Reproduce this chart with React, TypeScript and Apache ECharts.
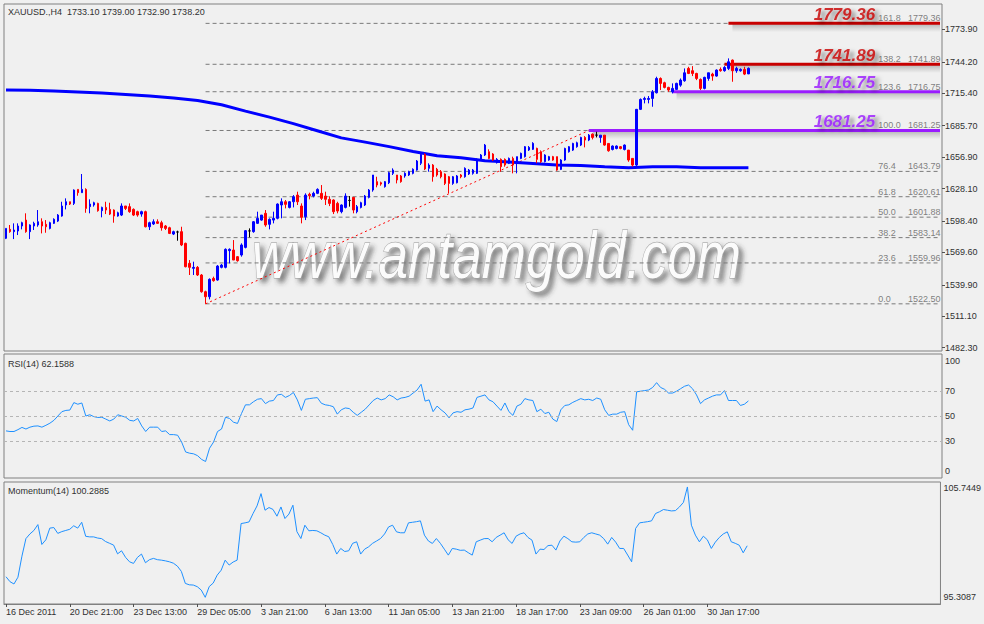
import React, { useEffect, useRef } from 'react';
import * as echarts from 'echarts';

const symbolHeader = 'XAUUSD.,H4\u00a0\u00a01733.10 1739.00 1732.90 1738.20';
const rsiHeader = 'RSI(14) 62.1588';
const momHeader = 'Momentum(14) 100.2885';

const SLOT_COUNT = 235;
const TIME_LABEL_STEP = 16;
const timeLabels = ['16 Dec 2011', '20 Dec 21:00', '23 Dec 13:00', '29 Dec 05:00', '3 Jan 21:00', '6 Jan 13:00', '11 Jan 05:00', '13 Jan 21:00', '18 Jan 17:00', '23 Jan 09:00', '26 Jan 01:00', '30 Jan 17:00'];

// [open, close, low, high]
const candles: number[][] = [
  [1582.5, 1591.6, 1581.8, 1591.6], [1590.7, 1588.6, 1587.6, 1594.7], [1588.6, 1590.1, 1581.8, 1596.2], [1589.2, 1593.8, 1585.5, 1596.2],
  [1593.8, 1596.8, 1590.7, 1597.7], [1599.2, 1588.6, 1587.6, 1605.4], [1588.6, 1594.7, 1581.8, 1595.3], [1593.8, 1596.2, 1590.1, 1597.7],
  [1594.7, 1597.7, 1593.1, 1608.4], [1597.7, 1593.8, 1587.0, 1600.8], [1595.3, 1593.1, 1587.6, 1599.2], [1591.6, 1596.8, 1590.7, 1597.7],
  [1596.2, 1599.9, 1595.6, 1600.8], [1598.3, 1603.8, 1597.4, 1604.7], [1602.9, 1612.1, 1602.3, 1616.0], [1613.0, 1616.0, 1609.0, 1619.1],
  [1616.0, 1613.9, 1613.0, 1616.0], [1614.5, 1626.7, 1613.0, 1627.3], [1627.3, 1624.3, 1621.5, 1627.3], [1624.3, 1627.3, 1624.3, 1641.4],
  [1627.3, 1609.9, 1605.9, 1628.3], [1611.5, 1613.9, 1605.4, 1618.2], [1613.0, 1615.1, 1611.5, 1616.0], [1614.5, 1607.8, 1606.9, 1615.1],
  [1607.8, 1610.8, 1601.7, 1611.5], [1610.8, 1608.4, 1604.7, 1616.0], [1609.0, 1604.7, 1603.8, 1615.1], [1608.4, 1602.9, 1596.8, 1609.0],
  [1602.9, 1605.9, 1602.3, 1606.9], [1603.8, 1612.1, 1602.9, 1614.5], [1612.1, 1609.9, 1608.4, 1612.1], [1611.5, 1606.9, 1605.9, 1614.5],
  [1609.0, 1603.8, 1602.9, 1609.9], [1606.9, 1603.8, 1602.3, 1607.8], [1604.7, 1606.9, 1602.3, 1607.8], [1606.9, 1593.1, 1592.5, 1607.8],
  [1593.1, 1596.8, 1590.1, 1597.7], [1595.6, 1597.7, 1594.7, 1599.9], [1597.7, 1596.2, 1595.6, 1599.9], [1596.8, 1592.2, 1589.5, 1598.6],
  [1593.8, 1591.6, 1590.1, 1594.7], [1592.2, 1587.0, 1586.4, 1593.1], [1586.4, 1588.6, 1585.5, 1589.5], [1588.3, 1588.3, 1580.3, 1589.5],
  [1588.6, 1576.4, 1575.4, 1593.1], [1577.9, 1556.5, 1555.9, 1578.5], [1559.6, 1555.9, 1548.9, 1562.6], [1555.0, 1555.9, 1548.9, 1561.1],
  [1555.9, 1548.9, 1548.0, 1557.1], [1548.9, 1533.6, 1532.7, 1549.8], [1533.6, 1529.0, 1522.5, 1534.5], [1529.0, 1544.9, 1526.6, 1545.8],
  [1545.8, 1543.7, 1542.8, 1547.4], [1544.3, 1557.1, 1543.7, 1558.0], [1555.9, 1558.0, 1555.0, 1559.0], [1555.9, 1572.4, 1555.0, 1573.3],
  [1571.2, 1572.4, 1559.6, 1573.3], [1571.8, 1562.6, 1562.6, 1580.9], [1565.7, 1562.0, 1561.1, 1566.3], [1567.2, 1576.4, 1565.7, 1577.9],
  [1574.2, 1589.5, 1573.3, 1590.1], [1589.3, 1589.3, 1583.4, 1591.6], [1588.6, 1597.7, 1587.6, 1598.3], [1596.2, 1600.8, 1595.6, 1606.9],
  [1599.2, 1603.8, 1598.6, 1603.8], [1605.4, 1594.7, 1593.1, 1608.4], [1595.3, 1599.9, 1590.7, 1600.8], [1599.2, 1600.8, 1596.2, 1606.9],
  [1600.8, 1613.9, 1599.9, 1614.5], [1613.0, 1616.0, 1600.8, 1619.1], [1616.0, 1613.6, 1609.9, 1617.6], [1610.8, 1616.0, 1609.9, 1616.6],
  [1616.0, 1620.6, 1610.8, 1622.1], [1622.1, 1616.0, 1613.0, 1625.2], [1612.1, 1601.7, 1596.2, 1614.5], [1602.3, 1622.1, 1599.2, 1623.7],
  [1622.8, 1621.5, 1618.2, 1624.3], [1621.2, 1623.7, 1620.0, 1625.2], [1623.7, 1627.3, 1623.0, 1628.3], [1623.7, 1619.1, 1617.6, 1631.3],
  [1621.2, 1618.2, 1613.0, 1625.2], [1618.2, 1614.5, 1612.0, 1621.0], [1617.6, 1606.9, 1604.7, 1618.2], [1614.5, 1607.5, 1605.4, 1616.0],
  [1606.9, 1613.0, 1605.4, 1613.6], [1610.8, 1621.2, 1609.9, 1623.7], [1617.2, 1617.2, 1611.5, 1621.2], [1620.0, 1608.4, 1605.4, 1620.0],
  [1606.9, 1611.5, 1605.4, 1613.0], [1610.8, 1615.1, 1609.9, 1616.0], [1613.0, 1621.2, 1612.1, 1622.2], [1620.0, 1626.7, 1619.1, 1627.6],
  [1626.7, 1640.5, 1625.2, 1640.5], [1634.4, 1631.3, 1629.2, 1638.9], [1633.4, 1632.2, 1630.7, 1634.4], [1629.8, 1634.4, 1628.9, 1635.0],
  [1633.4, 1642.6, 1632.2, 1643.5], [1642.0, 1645.0, 1640.5, 1646.6], [1640.5, 1635.9, 1632.8, 1640.5], [1639.6, 1634.4, 1633.4, 1640.5],
  [1639.6, 1642.0, 1638.0, 1643.0], [1640.5, 1643.5, 1639.6, 1644.4], [1642.0, 1645.7, 1641.1, 1646.6], [1645.0, 1653.3, 1644.4, 1654.2],
  [1651.2, 1659.4, 1649.6, 1660.9], [1659.4, 1646.0, 1645.0, 1660.3], [1646.6, 1649.6, 1643.5, 1651.2], [1649.6, 1638.9, 1634.4, 1650.5],
  [1645.7, 1640.5, 1639.0, 1647.0], [1643.5, 1638.9, 1637.4, 1645.0], [1641.4, 1632.8, 1631.3, 1642.0], [1638.9, 1632.8, 1623.7, 1639.6],
  [1632.8, 1638.9, 1631.5, 1639.6], [1633.4, 1639.6, 1632.8, 1640.5], [1640.5, 1638.9, 1637.5, 1641.4], [1638.9, 1646.6, 1638.0, 1647.5],
  [1641.4, 1645.0, 1640.5, 1646.0], [1642.0, 1645.0, 1640.8, 1646.0], [1642.0, 1654.8, 1641.4, 1655.7], [1654.2, 1658.8, 1653.5, 1659.7],
  [1658.8, 1667.9, 1657.9, 1668.9], [1661.8, 1655.7, 1655.0, 1664.0], [1659.7, 1654.2, 1653.3, 1660.5], [1651.8, 1654.8, 1651.0, 1656.0],
  [1654.8, 1648.1, 1643.5, 1655.7], [1654.8, 1649.6, 1648.1, 1655.7], [1651.2, 1655.7, 1650.5, 1656.5], [1655.7, 1649.6, 1642.0, 1657.3],
  [1651.2, 1657.3, 1642.0, 1657.3], [1655.7, 1660.3, 1655.0, 1661.0], [1657.3, 1666.4, 1656.5, 1667.0], [1663.4, 1665.8, 1662.5, 1667.0],
  [1664.0, 1669.5, 1663.4, 1670.5], [1664.9, 1654.8, 1651.2, 1665.5], [1661.8, 1652.7, 1651.5, 1663.0], [1652.7, 1658.8, 1652.0, 1659.5],
  [1654.2, 1657.3, 1653.5, 1658.0], [1657.3, 1654.2, 1653.5, 1658.0], [1657.3, 1645.0, 1644.4, 1657.3], [1645.6, 1654.2, 1645.0, 1655.0],
  [1654.2, 1664.8, 1653.5, 1665.5], [1661.8, 1666.4, 1661.0, 1667.0], [1663.3, 1669.4, 1662.5, 1670.0], [1666.4, 1670.0, 1665.5, 1671.0],
  [1667.9, 1674.9, 1667.0, 1675.5], [1674.9, 1672.5, 1665.8, 1676.1], [1672.5, 1677.0, 1671.5, 1678.0], [1677.9, 1674.9, 1673.1, 1678.6],
  [1677.0, 1677.0, 1674.9, 1680.1], [1674.9, 1677.0, 1670.0, 1677.0], [1677.0, 1667.9, 1667.3, 1677.0], [1669.4, 1662.7, 1661.8, 1669.4],
  [1663.9, 1667.0, 1663.0, 1667.6], [1664.8, 1667.0, 1664.0, 1667.6], [1666.4, 1664.8, 1664.0, 1667.0], [1663.9, 1667.9, 1663.0, 1668.5],
  [1663.3, 1654.2, 1652.6, 1663.3], [1655.7, 1649.6, 1648.1, 1655.7], [1649.6, 1700.6, 1648.5, 1701.0], [1700.6, 1709.7, 1700.0, 1710.6],
  [1709.7, 1710.6, 1706.1, 1712.2], [1709.7, 1710.6, 1706.1, 1712.8], [1710.6, 1716.7, 1703.0, 1718.3], [1715.8, 1728.9, 1715.2, 1730.5],
  [1728.9, 1724.4, 1718.3, 1729.9], [1725.0, 1720.7, 1719.8, 1725.9], [1720.7, 1718.3, 1716.7, 1721.3], [1716.7, 1719.8, 1715.2, 1724.4],
  [1718.9, 1724.4, 1718.3, 1725.0], [1722.8, 1727.4, 1721.3, 1728.9], [1726.8, 1734.1, 1725.9, 1738.1], [1738.1, 1733.5, 1732.9, 1739.6],
  [1736.0, 1733.5, 1731.1, 1740.2], [1733.5, 1728.9, 1727.4, 1734.1], [1728.0, 1719.8, 1718.3, 1728.9], [1719.8, 1729.9, 1718.9, 1730.5],
  [1728.9, 1734.1, 1726.8, 1734.1], [1732.9, 1731.1, 1726.8, 1734.1], [1731.1, 1736.6, 1730.5, 1737.2], [1737.2, 1736.0, 1735.1, 1739.0],
  [1736.0, 1739.0, 1735.1, 1740.2], [1738.1, 1744.2, 1736.6, 1747.3], [1745.7, 1736.0, 1725.9, 1746.3], [1736.0, 1738.1, 1734.1, 1739.6],
  [1736.0, 1737.2, 1735.1, 1738.1], [1737.2, 1732.9, 1732.0, 1739.6], [1733.1, 1738.2, 1732.9, 1739.0],
];

// moving average, [bar, value]
const maPoints: number[][] = [
  [0, 1718.3], [6, 1718.0], [12, 1717.4], [18, 1716.5], [24, 1715.5], [30, 1714.3], [36, 1712.8], [42, 1711.0],
  [48, 1708.7], [54, 1704.8], [60, 1699.0], [66, 1693.5], [72, 1687.5], [78, 1681.0], [84, 1674.5], [90, 1670.6],
  [96, 1666.5], [102, 1662.0], [108, 1658.2], [114, 1656.2], [120, 1653.5], [126, 1652.4], [132, 1651.0], [138, 1649.6],
  [144, 1649.3], [150, 1648.1], [156, 1647.2], [162, 1648.0], [168, 1648.0], [174, 1647.2], [186, 1647.2],
];

const rsiValues = [
  38.0, 37.5, 37.5, 39.0, 40.8, 39.5, 41.0, 41.8, 42.0, 41.0, 42.5, 44.2, 46.5, 50.0, 53.5, 54.5, 54.8, 60.8, 59.5, 60.5,
  50.0, 51.0, 49.5, 48.8, 49.0, 47.5, 46.0, 47.5, 51.0, 50.0, 49.0, 46.5, 46.0, 48.0, 42.0, 37.5, 41.0, 41.0, 41.0, 37.5,
  38.0, 35.0, 35.0, 34.5, 29.0, 21.0, 20.0, 19.5, 18.0, 15.0, 13.3, 24.0, 29.0, 37.5, 39.5, 49.0, 48.0, 45.0, 44.0, 52.0,
  59.0, 59.0, 61.5, 63.5, 64.0, 60.0, 62.0, 62.5, 67.0, 67.5, 65.0, 66.5, 69.0, 63.0, 54.5, 63.5, 64.0, 64.5, 64.8, 60.3,
  59.0, 58.5, 57.5, 51.5, 55.0, 56.5, 56.0, 53.0, 50.5, 53.0, 55.5, 59.0, 62.5, 64.5, 63.0, 64.0, 67.0, 65.5, 63.0, 64.5,
  65.0, 66.0, 68.5, 71.0, 75.6, 62.0, 63.0, 53.5, 58.0, 55.0, 52.5, 48.5, 52.5, 53.5, 53.0, 55.0, 55.5, 56.5, 65.0, 66.0,
  67.0, 63.0, 61.5, 58.0, 54.5, 60.5, 53.5, 50.5, 58.0, 59.5, 64.0, 63.0, 62.5, 53.5, 55.5, 52.0, 53.0, 47.5, 45.5, 55.0,
  58.5, 59.0, 61.0, 62.5, 64.0, 63.0, 63.5, 62.5, 64.5, 63.5, 55.0, 50.5, 51.5, 51.5, 53.0, 53.5, 43.0, 38.5, 69.5, 70.0,
  70.5, 71.0, 73.0, 76.9, 73.0, 71.5, 68.5, 68.5, 70.0, 72.0, 74.0, 75.0, 72.0, 67.0, 60.0, 63.0, 64.5, 66.0, 67.0, 67.0,
  70.5, 62.5, 62.5, 62.5, 58.5, 59.5, 62.16,
];

const momentumValues = [
  97.64, 97.22, 97.02, 97.6, 99.4, 100.9, 101.3, 101.6, 102.1, 100.4, 100.8, 101.8, 101.85, 101.35, 101.5, 101.6, 101.7, 102.0, 101.8, 102.3,
  101.1, 101.05, 101.05, 100.95, 100.9, 100.65, 100.5, 100.35, 99.6, 99.86, 99.3, 98.92, 98.78, 99.3, 99.58, 98.84, 99.1, 99.21, 99.1, 99.06,
  99.0, 98.92, 98.8, 98.55, 98.1, 97.07, 96.95, 96.93, 96.79, 96.5, 95.88, 96.8, 97.1, 97.78, 98.2, 99.06, 98.64, 98.9, 99.06, 102.19,
  102.25, 102.33, 103.05, 103.7, 104.75, 103.33, 103.56, 103.4, 102.82, 103.61, 102.62, 103.0, 103.76, 101.5, 100.91, 102.05, 101.57, 101.6, 101.57, 101.4,
  101.2, 101.06, 100.4, 99.58, 100.06, 99.8, 99.86, 100.5, 100.63, 99.58, 100.0, 100.2, 100.5, 100.7, 100.91, 101.3, 101.9, 102.05, 101.48, 101.4,
  101.4, 102.25, 102.3, 102.35, 102.42, 101.2, 100.7, 100.49, 100.91, 100.5, 100.0, 99.49, 100.06, 100.0, 99.9, 99.92, 99.7, 99.49, 100.63, 100.77,
  100.9, 100.91, 100.63, 101.0, 101.2, 101.4, 100.8, 100.49, 101.11, 101.3, 101.4, 101.0, 100.77, 99.58, 100.0, 99.97, 100.3, 100.34, 99.92, 100.7,
  101.11, 100.9, 100.63, 100.6, 100.63, 101.0, 101.3, 101.4, 101.3, 101.2, 100.9, 100.43, 101.0, 100.6, 100.06, 100.06, 99.5, 98.92, 101.77, 102.25,
  102.3, 102.35, 102.42, 103.05, 103.2, 103.39, 103.33, 103.27, 103.3, 103.61, 104.0, 105.32, 102.05, 101.2, 100.63, 101.11, 100.8, 100.06, 100.6, 101.0,
  101.3, 101.48, 100.63, 100.5, 100.34, 99.69, 100.29,
];

const priceTicks = [1773.9, 1744.2, 1715.4, 1685.7, 1656.9, 1628.1, 1598.4, 1569.6, 1539.9, 1511.1, 1482.3];
const PRICE_MIN = 1479.3;
const PRICE_MAX = 1797.1;

const rsiLevels = [70, 50, 30];
const rsiLabelTexts = ['100', '70', '50', '30', '0'];
const rsiLabelSpots = [94.4, 70, 50, 30, 5.6];

const MOM_MIN = 95.3087;
const MOM_MAX = 105.7449;
const momLabelTexts = ['105.7449', '95.3087'];
const momLabelSpots = [105.21, 95.88];

const fibPercents = ['0.0', '23.6', '38.2', '50.0', '61.8', '76.4', '100.0', '123.6', '138.2', '161.8'];
const fibPrices = [1522.5, 1559.96, 1583.14, 1601.88, 1620.61, 1643.79, 1681.25, 1716.75, 1741.89, 1779.36];
const FIB_START_BAR = 50;
const LAST_SLOT = SLOT_COUNT - 1;
const trendLine = [[50, 1522.5], [146, 1681.25]];

const keyLevels = [1779.36, 1741.89, 1716.75, 1681.25];
const keyLevelStartBars = [181, 180, 167, 146];
const keyLevelColors = ['#c80000', '#c80000', '#9a1cff', '#9a1cff'];
const SHADOW_DEPTH = 8;

const lastPrice = 1738.2;
const watermark = 'www.antamgold.com';

const FONT = '"Liberation Sans", Arial, sans-serif';
const TXT = '#303030';

function nearestText(v: number, spots: number[], texts: string[]) {
  let k = 0;
  for (let i = 1; i < spots.length; i++) if (Math.abs(spots[i] - v) < Math.abs(spots[k] - v)) k = i;
  return texts[k];
}

function buildOption(): any {
  const categories = Array.from({ length: SLOT_COUNT }, (_, i) => String(i));
  const showTime = (i: number) => i % TIME_LABEL_STEP === 0 && i / TIME_LABEL_STEP < timeLabels.length;
  const gridBase = { left: 4, right: 42, show: true, borderColor: '#808080', borderWidth: 1, backgroundColor: 'transparent' };

  const fibLineSeries = fibPrices.map((p) => ({
    type: 'line', xAxisIndex: 0, yAxisIndex: 0, silent: true, symbol: 'none', z: 2,
    data: [[FIB_START_BAR, p], [LAST_SLOT, p]],
    lineStyle: { color: '#7a7a7a', width: 1, type: [4, 3] },
  }));

  const shadowFill = new echarts.graphic.LinearGradient(0, 0, 0, 1, [
    { offset: 0, color: 'rgba(0,0,0,0.26)' },
    { offset: 0.5, color: 'rgba(0,0,0,0.12)' },
    { offset: 1, color: 'rgba(0,0,0,0)' },
  ]);

  const keyLineSeries = keyLevels.map((p, k) => ({
    type: 'line', xAxisIndex: 0, yAxisIndex: 0, silent: true, symbol: 'none', z: 3,
    data: [[keyLevelStartBars[k], p], [LAST_SLOT, p]],
    lineStyle: { color: keyLevelColors[k], width: 3 },
    markArea: {
      silent: true,
      itemStyle: { color: shadowFill },
      data: [[{ coord: [keyLevelStartBars[k] + 1, p] }, { coord: [LAST_SLOT, p - SHADOW_DEPTH] }]],
    },
  }));

  const bigLabelSeries = keyLevels.map((p, k) => ({
    type: 'scatter', xAxisIndex: 0, yAxisIndex: 0, silent: true, symbolSize: 0, z: 8,
    data: [[218, p]],
    label: {
      show: true, position: 'left', distance: 1, offset: [0, -9],
      formatter: () => p.toFixed(2),
      fontFamily: FONT, fontSize: 17, fontWeight: 'bold', fontStyle: 'italic',
      color: keyLevelColors[k],
      textShadowColor: 'rgba(0,0,0,0.6)', textShadowBlur: 4, textShadowOffsetX: 4, textShadowOffsetY: 3,
    },
  }));

  return {
    animation: false,
    backgroundColor: '#f0f0f0',
    textStyle: { fontFamily: FONT },
    title: [
      { text: symbolHeader, left: 8, top: 7, padding: 0, textStyle: { fontSize: 9, fontWeight: 'normal', color: TXT, fontFamily: FONT } },
      { text: rsiHeader, left: 8, top: 359, padding: 0, textStyle: { fontSize: 9, fontWeight: 'normal', color: TXT, fontFamily: FONT } },
      { text: momHeader, left: 8, top: 486, padding: 0, textStyle: { fontSize: 9, fontWeight: 'normal', color: TXT, fontFamily: FONT } },
    ],
    grid: [
      { ...gridBase, top: 4, height: 347 },
      { ...gridBase, top: 354, height: 124 },
      { ...gridBase, top: 482, height: 122 },
    ],
    xAxis: [0, 1, 2].map((g) => ({
      type: 'category', gridIndex: g, data: categories, boundaryGap: true, show: g === 2,
      axisLine: { show: true, lineStyle: { color: '#808080' } },
      axisTick: { show: true, alignWithLabel: true, length: 3, interval: (i: number) => showTime(i), lineStyle: { color: '#505050' } },
      axisLabel: {
        show: true, interval: (i: number) => showTime(i), align: 'left', margin: 3,
        fontSize: 9, color: TXT, fontFamily: FONT,
        formatter: (_v: string, i: number) => timeLabels[Math.round(i / TIME_LABEL_STEP)] ?? '',
      },
      splitLine: { show: false },
    })),
    yAxis: [
      {
        type: 'value', gridIndex: 0, position: 'right', min: PRICE_MIN, max: PRICE_MAX,
        splitLine: { show: false }, axisLine: { show: false },
        axisTick: { show: true, length: 3, customValues: priceTicks, lineStyle: { color: '#505050' } },
        axisLabel: { customValues: priceTicks, formatter: (v: number) => v.toFixed(2), fontSize: 9, color: TXT, margin: 3, fontFamily: FONT },
      },
      {
        type: 'value', gridIndex: 1, position: 'right', min: 0, max: 100,
        splitLine: { show: false }, axisLine: { show: false }, axisTick: { show: false },
        axisLabel: { customValues: rsiLabelSpots, formatter: (v: number) => nearestText(v, rsiLabelSpots, rsiLabelTexts), fontSize: 9, color: TXT, margin: 3, fontFamily: FONT },
      },
      {
        type: 'value', gridIndex: 2, position: 'right', min: MOM_MIN, max: MOM_MAX,
        splitLine: { show: false }, axisLine: { show: false }, axisTick: { show: false },
        axisLabel: { customValues: momLabelSpots, formatter: (v: number) => nearestText(v, momLabelSpots, momLabelTexts), fontSize: 9, color: TXT, margin: 3, fontFamily: FONT },
      },
    ],
    graphic: [
      {
        type: 'text', x: 252, y: 255, scaleY: 1.27, z: 0, silent: true,
        style: {
          text: watermark, font: `italic 53px ${FONT}`,
          fill: '#fbfbfb', stroke: 'rgba(150,150,150,0.7)', lineWidth: 1,
          align: 'left', verticalAlign: 'middle', textAlign: 'left', textVerticalAlign: 'middle',
          textShadowColor: 'rgba(50,50,50,0.6)', textShadowBlur: 5, textShadowOffsetX: 4, textShadowOffsetY: 4,
          shadowColor: 'rgba(50,50,50,0.6)', shadowBlur: 5, shadowOffsetX: 4, shadowOffsetY: 4,
        },
      },
    ],
    series: [
      ...fibLineSeries,
      {
        type: 'line', xAxisIndex: 0, yAxisIndex: 0, silent: true, symbol: 'none', z: 2,
        data: trendLine, lineStyle: { color: '#ff0000', width: 1, type: [2, 3] },
      },
      {
        type: 'line', xAxisIndex: 0, yAxisIndex: 0, silent: true, symbol: 'none', z: 3,
        data: maPoints, lineStyle: { color: '#0000ff', width: 3 },
      },
      ...keyLineSeries,
      {
        type: 'candlestick', xAxisIndex: 0, yAxisIndex: 0, silent: true, z: 4, barWidth: 2,
        data: candles,
        itemStyle: {
          color: '#0000ff', color0: '#ff0000', borderColor: '#0000ff', borderColor0: '#ff0000',
          borderColorDoji: '#000000', borderWidth: 1,
        },
        markLine: {
          silent: true, symbol: ['none', 'none'],
          data: [{ yAxis: lastPrice }],
          lineStyle: { opacity: 0 },
          label: {
            show: true, position: 'end', distance: 2, formatter: () => lastPrice.toFixed(2),
            backgroundColor: '#4f4f4f', color: '#ffffff', padding: [1, 3, 1, 3], fontSize: 9, fontFamily: FONT,
          },
        },
      },
      {
        type: 'scatter', xAxisIndex: 0, yAxisIndex: 0, silent: true, symbolSize: 0, z: 7,
        data: fibPrices.map((p) => [218, p]),
        label: {
          show: true, position: 'right', distance: 2, offset: [0, -5],
          formatter: (d: any) => fibPercents[d.dataIndex],
          fontSize: 9, color: '#606060', fontFamily: FONT,
        },
      },
      {
        type: 'scatter', xAxisIndex: 0, yAxisIndex: 0, silent: true, symbolSize: 0, z: 7,
        data: fibPrices.map((p) => [226, p]),
        label: {
          show: true, position: 'right', distance: 0, offset: [0, -5],
          formatter: (d: any) => fibPrices[d.dataIndex].toFixed(2),
          fontSize: 9, color: '#606060', fontFamily: FONT,
        },
      },
      ...bigLabelSeries,
      {
        type: 'line', xAxisIndex: 1, yAxisIndex: 1, silent: true, symbol: 'none', z: 3,
        data: rsiValues, lineStyle: { color: '#1e90ff', width: 1 },
        markLine: {
          silent: true, symbol: ['none', 'none'], label: { show: false },
          data: rsiLevels.map((v) => ({ yAxis: v })),
          lineStyle: { color: '#b5b5b5', width: 1, type: [3, 3] },
        },
      },
      {
        type: 'line', xAxisIndex: 2, yAxisIndex: 2, silent: true, symbol: 'none', z: 3,
        data: momentumValues, lineStyle: { color: '#1e90ff', width: 1 },
      },
    ],
  };
}

export default function App() {
  const ref = useRef<HTMLDivElement>(null);
  useEffect(() => {
    if (!ref.current) return;
    const chart = echarts.init(ref.current, undefined, { renderer: 'svg' });
    chart.setOption(buildOption());
    return () => chart.dispose();
  }, []);
  return (
    <div
      ref={ref}
      style={{ position: 'fixed', left: 0, top: 0, width: 984, height: 624, background: '#f0f0f0' }}
    />
  );
}
